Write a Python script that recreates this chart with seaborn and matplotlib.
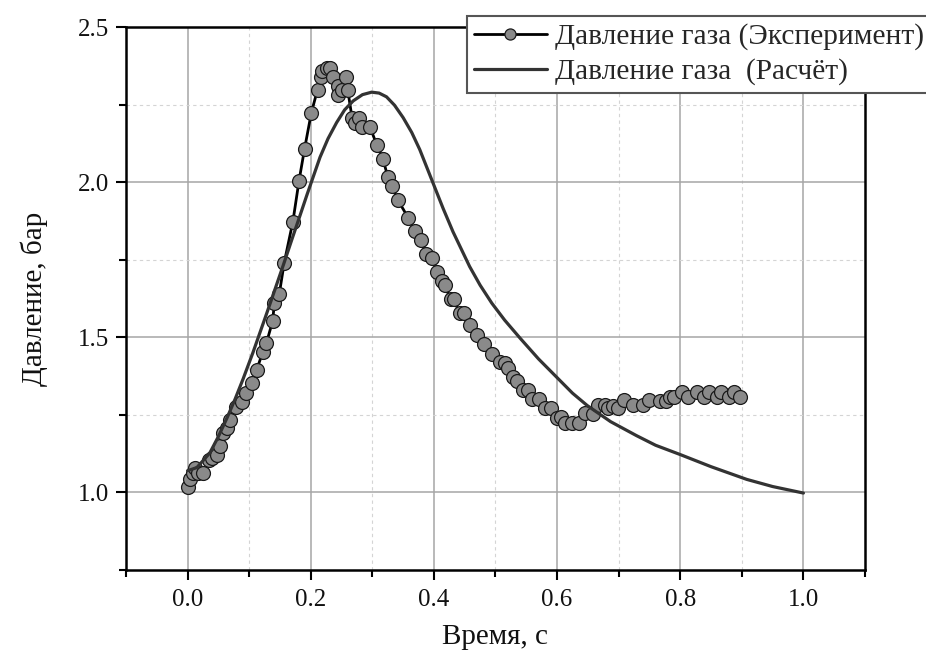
import matplotlib
matplotlib.use("Agg")
import matplotlib.pyplot as plt
import seaborn as sns
import numpy as np
import pandas as pd
from matplotlib.ticker import FixedLocator

# ---- data ----
exp_t = [0.000, 0.004, 0.009, 0.012, 0.017, 0.025, 0.035, 0.039, 0.047, 0.052,
         0.057, 0.064, 0.069, 0.078, 0.088, 0.095, 0.104, 0.112, 0.122, 0.128,
         0.138, 0.141, 0.149, 0.157, 0.171, 0.181, 0.190, 0.201, 0.211, 0.216,
         0.219, 0.226, 0.232, 0.236, 0.244, 0.245, 0.250, 0.258, 0.260, 0.267,
         0.272, 0.278, 0.284, 0.296, 0.307, 0.317, 0.325, 0.332, 0.341, 0.358,
         0.369, 0.379, 0.387, 0.397, 0.405, 0.413, 0.418, 0.427, 0.432, 0.442,
         0.449, 0.458, 0.470, 0.481, 0.494, 0.507, 0.515, 0.520, 0.528, 0.535,
         0.544, 0.552, 0.560, 0.570, 0.580, 0.590, 0.600, 0.606, 0.613, 0.624,
         0.635, 0.645, 0.658, 0.667, 0.677, 0.682, 0.690, 0.699, 0.708, 0.723,
         0.739, 0.749, 0.767, 0.777, 0.783, 0.790, 0.803, 0.812, 0.827, 0.838,
         0.846, 0.859, 0.866, 0.879, 0.888, 0.897]
exp_p = [1.017, 1.043, 1.062, 1.078, 1.062, 1.062, 1.104, 1.110, 1.120, 1.149,
         1.191, 1.207, 1.233, 1.275, 1.291, 1.320, 1.352, 1.394, 1.452, 1.481,
         1.552, 1.609, 1.641, 1.741, 1.873, 2.005, 2.108, 2.224, 2.298, 2.340,
         2.359, 2.369, 2.369, 2.340, 2.311, 2.282, 2.298, 2.340, 2.298, 2.208,
         2.192, 2.208, 2.179, 2.179, 2.121, 2.076, 2.018, 1.986, 1.944, 1.886,
         1.841, 1.812, 1.770, 1.754, 1.709, 1.683, 1.667, 1.622, 1.622, 1.577,
         1.577, 1.539, 1.506, 1.477, 1.445, 1.419, 1.416, 1.400, 1.371, 1.358,
         1.329, 1.329, 1.300, 1.300, 1.271, 1.271, 1.239, 1.242, 1.223, 1.223,
         1.223, 1.255, 1.252, 1.281, 1.281, 1.271, 1.278, 1.271, 1.297, 1.281,
         1.281, 1.297, 1.294, 1.294, 1.307, 1.307, 1.323, 1.307, 1.323, 1.307,
         1.323, 1.307, 1.323, 1.307, 1.323, 1.307]

calc_t = [0.000, 0.015, 0.036, 0.050, 0.064, 0.077, 0.090, 0.106, 0.129, 0.142,
          0.155, 0.171, 0.183, 0.194, 0.215, 0.228, 0.242, 0.255, 0.269, 0.284,
          0.299, 0.311, 0.323, 0.336, 0.350, 0.364, 0.377, 0.398, 0.415, 0.431,
          0.458, 0.475, 0.494, 0.515, 0.540, 0.570, 0.600, 0.625, 0.649, 0.687,
          0.729, 0.760, 0.800, 0.850, 0.908, 0.950, 1.000]
calc_p = [1.070, 1.080, 1.127, 1.180, 1.240, 1.300, 1.365, 1.450, 1.580, 1.655,
          1.730, 1.825, 1.895, 1.960, 2.080, 2.140, 2.192, 2.233, 2.262, 2.282,
          2.290, 2.287, 2.275, 2.248, 2.208, 2.160, 2.105, 2.000, 1.915, 1.840,
          1.728, 1.668, 1.610, 1.555, 1.497, 1.430, 1.370, 1.320, 1.280, 1.228,
          1.183, 1.152, 1.122, 1.083, 1.042, 1.019, 0.998]

x_ticks = [0.0, 0.2, 0.4, 0.6, 0.8, 1.0]
x_tick_labels = ["0.0", "0.2", "0.4", "0.6", "0.8", "1.0"]
y_ticks = [1.0, 1.5, 2.0, 2.5]
y_tick_labels = ["1.0", "1.5", "2.0", "2.5"]

label_exp = "Давление газа (Эксперимент)"
label_calc = "Давление газа  (Расчёт)"
x_label = "Время, с"
y_label = "Давление, бар"

# ---- style ----
sns.set_theme(style="white")
plt.rcParams["font.family"] = ["Liberation Serif", "DejaVu Serif"]

fig = plt.figure(figsize=(9.26, 6.60), dpi=100)
ax = fig.add_axes([126 / 926, 1 - 570 / 660, (865 - 126) / 926, (570 - 27) / 660])

df_exp = pd.DataFrame({"t": exp_t, "p": exp_p})
df_calc = pd.DataFrame({"t": calc_t, "p": calc_p})

sns.lineplot(data=df_exp, x="t", y="p", ax=ax, estimator=None, sort=False,
             color="black", linewidth=2.0, marker="o", markersize=10,
             markerfacecolor="#8a8a8a", markeredgecolor="#1a1a1a",
             markeredgewidth=0.9, label=label_exp, zorder=3)
sns.lineplot(data=df_calc, x="t", y="p", ax=ax, estimator=None, sort=False,
             color="#333333", linewidth=2.3, label=label_calc, zorder=4)

ax.set_xlim(-0.1, 1.1)
ax.set_ylim(0.75, 2.5)

ax.xaxis.set_major_locator(FixedLocator(x_ticks))
ax.set_xticklabels(x_tick_labels)
ax.xaxis.set_minor_locator(FixedLocator([-0.1, 0.1, 0.3, 0.5, 0.7, 0.9, 1.1]))
ax.yaxis.set_major_locator(FixedLocator(y_ticks))
ax.set_yticklabels(y_tick_labels)
ax.yaxis.set_minor_locator(FixedLocator([0.75, 1.25, 1.75, 2.25]))

ax.grid(True, which="major", color="#a6a6a6", linewidth=1.1, linestyle="-")
ax.grid(True, which="minor", color="#d4d4d4", linewidth=0.8, linestyle=(0, (3, 3)))
ax.set_axisbelow(True)

for s in ax.spines.values():
    s.set_visible(True)
    s.set_color("black")
    s.set_linewidth(1.8)

ax.tick_params(axis="both", which="both", direction="out", bottom=True, left=True,
               top=False, right=False, color="black")
ax.tick_params(axis="both", which="major", length=7, width=1.5, labelsize=18,
               labelcolor="#111111")
ax.tick_params(axis="x", which="major", pad=7)
ax.tick_params(axis="y", which="major", pad=5)
ax.tick_params(axis="both", which="minor", length=5, width=1.5)

ax.set_xlabel(x_label, fontsize=21, labelpad=9, color="#111111")
ax.set_ylabel(y_label, fontsize=21, labelpad=22, color="#111111")

handles, labels = ax.get_legend_handles_labels()
ax.get_legend().remove()
leg = fig.legend(handles, labels, loc="upper left",
                 bbox_to_anchor=(467 / 926, 1 - 16 / 660),
                 bbox_transform=fig.transFigure, fontsize=21.2,
                 frameon=True, fancybox=False, framealpha=1, edgecolor="#555555",
                 handlelength=2.45, handletextpad=0.3, borderpad=0.25,
                 labelspacing=0.28, numpoints=1, markerscale=0.8, borderaxespad=0)
leg.get_frame().set_linewidth(1.5)

fig.savefig("out.png", dpi=100)
